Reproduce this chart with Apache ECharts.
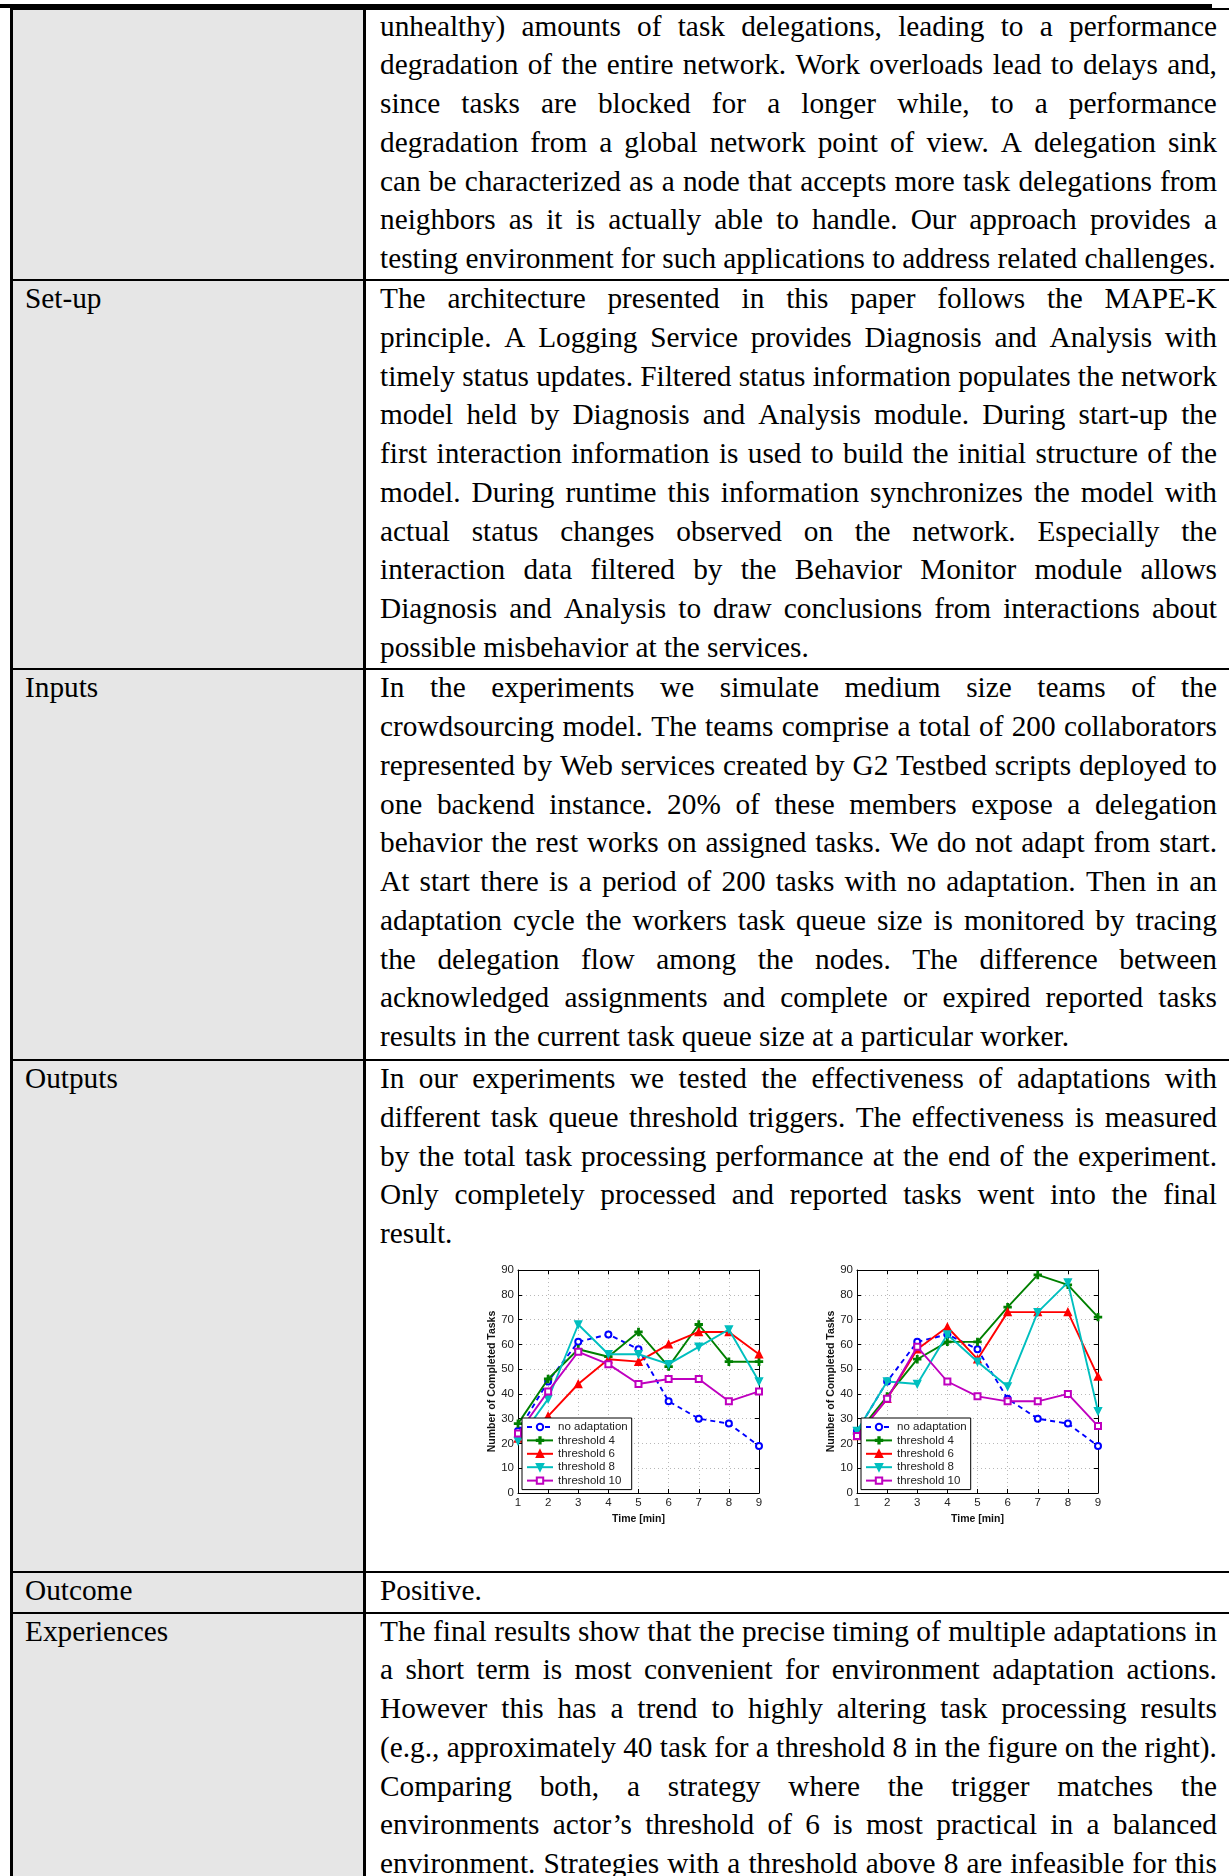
<!DOCTYPE html>
<html>
<head>
<meta charset="utf-8">
<script src="https://cdn.jsdelivr.net/npm/echarts@6/dist/echarts.min.js"></script>
<style>
  html, body { margin: 0; padding: 0; background: #fff; }
  #page { position: relative; width: 1229px; height: 1876px; overflow: hidden; background: #fff;
          font-family: 'Liberation Serif', 'Times New Roman', serif; font-size: 29.3px; color: #000; }
  .blk { position: absolute; }
  .line { height: 38.75px; line-height: 38.75px; white-space: pre; }
  .just { display: flex; justify-content: space-between; }
  #chart { position: absolute; left: 400px; top: 1250px; width: 780px; height: 300px; }
</style>
</head>
<body>
<div id="page"></div>
<script>
// ---------------- chart data ----------------
const times = ['1','2','3','4','5','6','7','8','9'];
const seriesNames = ['no adaptation','threshold 4','threshold 6','threshold 8','threshold 10'];

const leftNoAdaptation = [25, 45, 61, 64, 58, 37, 30, 28, 19];
const leftThreshold4   = [28, 46, 58, 55, 65, 51, 68, 53, 53];
const leftThreshold6   = [22, 31, 44, 54, 53, 60, 65, 65, 56];
const leftThreshold8   = [21, 38, 68, 56, 56, 52, 59, 66, 45];
const leftThreshold10  = [24, 41, 57, 52, 44, 46, 46, 37, 41];

const rightNoAdaptation = [25, 45, 61, 64, 58, 38, 30, 28, 19];
const rightThreshold4   = [24, 39, 54, 61, 61, 75, 88, 84, 71];
const rightThreshold6   = [23, 38, 58, 67, 54, 73, 73, 73, 47];
const rightThreshold8   = [25, 45, 44, 64, 53, 43, 73, 85, 33];
const rightThreshold10  = [23, 38, 59, 45, 39, 37, 37, 40, 27];

const yMin = 0, yMax = 90, yStep = 10;
const xAxisTitle = 'Time [min]';
const yAxisTitle = 'Number of Completed Tasks';

// ---------------- text content ----------------
const rowLabels = ['', 'Set-up', 'Inputs', 'Outputs', 'Outcome', 'Experiences'];
const row0Lines = [
  'unhealthy) amounts of task delegations, leading to a performance',
  'degradation of the entire network. Work overloads lead to delays and,',
  'since tasks are blocked for a longer while, to a performance',
  'degradation from a global network point of view. A delegation sink',
  'can be characterized as a node that accepts more task delegations from',
  'neighbors as it is actually able to handle. Our approach provides a',
  'testing environment for such applications to address related challenges.'
];
const row1Lines = [
  'The architecture presented in this paper follows the MAPE-K',
  'principle. A Logging Service provides Diagnosis and Analysis with',
  'timely status updates. Filtered status information populates the network',
  'model held by Diagnosis and Analysis module. During start-up the',
  'first interaction information is used to build the initial structure of the',
  'model. During runtime this information synchronizes the model with',
  'actual status changes observed on the network. Especially the',
  'interaction data filtered by the Behavior Monitor module allows',
  'Diagnosis and Analysis to draw conclusions from interactions about',
  'possible misbehavior at the services.'
];
const row2Lines = [
  'In the experiments we simulate medium size teams of the',
  'crowdsourcing model. The teams comprise a total of 200 collaborators',
  'represented by Web services created by G2 Testbed scripts deployed to',
  'one backend instance. 20% of these members expose a delegation',
  'behavior the rest works on assigned tasks. We do not adapt from start.',
  'At start there is a period of 200 tasks with no adaptation. Then in an',
  'adaptation cycle the workers task queue size is monitored by tracing',
  'the delegation flow among the nodes. The difference between',
  'acknowledged assignments and complete or expired reported tasks',
  'results in the current task queue size at a particular worker.'
];
const row3Lines = [
  'In our experiments we tested the effectiveness of adaptations with',
  'different task queue threshold triggers. The effectiveness is measured',
  'by the total task processing performance at the end of the experiment.',
  'Only completely processed and reported tasks went into the final',
  'result.'
];
const row4Lines = ['Positive.'];
const row5Lines = [
  'The final results show that the precise timing of multiple adaptations in',
  'a short term is most convenient for environment adaptation actions.',
  'However this has a trend to highly altering task processing results',
  '(e.g., approximately 40 task for a threshold 8 in the figure on the right).',
  'Comparing both, a strategy where the trigger matches the',
  'environments actor\u2019s threshold of 6 is most practical in a balanced',
  'environment. Strategies with a threshold above 8 are infeasible for this'
];
const rowsText = [row0Lines, row1Lines, row2Lines, row3Lines, row4Lines, row5Lines];
// last line of the final row continues on the next page -> justified
const rowLastIsJustified = [false, false, false, false, false, true];

// ---------------- page layout ----------------
const page = document.getElementById('page');
const rowBaselines = [36, 308.5, 697.6, 1088.5, 1600.5, 1641];
const rowBorders = [280, 669, 1060, 1572, 1613];
function addBox(l, t, w, h, bg) {
  const d = document.createElement('div');
  d.className = 'blk';
  d.style.cssText += `left:${l}px;top:${t}px;width:${w}px;height:${h}px;background:${bg};`;
  page.appendChild(d);
  return d;
}
// left column gray
addBox(12, 9, 352, 1867, '#e6e6e6');
// header rule and table top border
addBox(0, 4, 1212, 4, '#000');
addBox(10, 8, 1219, 2, '#000');
// vertical borders
addBox(10, 8, 2.5, 1868, '#000');
addBox(363, 8, 2.5, 1868, '#000');
// horizontal row borders
rowBorders.forEach(y => addBox(10, y - 1.25, 1219, 2.5, '#000'));

// text
rowsText.forEach((lines, r) => {
  const top = rowBaselines[r] - 29.3;
  if (rowLabels[r]) {
    const lb = document.createElement('div');
    lb.className = 'blk line';
    lb.style.left = '25px';
    lb.style.top = top + 'px';
    lb.textContent = rowLabels[r];
    page.appendChild(lb);
  }
  const blk = document.createElement('div');
  blk.className = 'blk';
  blk.style.left = '380px';
  blk.style.top = top + 'px';
  blk.style.width = '837px';
  lines.forEach((txt, i) => {
    const ln = document.createElement('div');
    const isLast = i === lines.length - 1;
    if (!isLast || rowLastIsJustified[r]) {
      ln.className = 'line just';
      txt.split(' ').forEach(w => {
        const s = document.createElement('span');
        s.textContent = w;
        ln.appendChild(s);
      });
    } else {
      ln.className = 'line';
      ln.textContent = txt;
    }
    blk.appendChild(ln);
  });
  page.appendChild(blk);
});

const chartDiv = document.createElement('div');
chartDiv.id = 'chart';
page.appendChild(chartDiv);

// ---------------- charts ----------------
const chart = echarts.init(chartDiv, null, { renderer: 'canvas' });
const plusPath = 'path://M4,0h2v4h4v2h-4v4h-2v-4h-4v-2h4z';
const downTri = 'path://M0,0L10,0L5,9Z';
const styleByName = {
  'no adaptation': { color: '#0000ff', symbol: 'emptyCircle', size: 6, type: [5, 4] },
  'threshold 4':   { color: '#008000', symbol: plusPath, size: 7, type: 'solid' },
  'threshold 6':   { color: '#ff0000', symbol: 'triangle', size: 7, type: 'solid' },
  'threshold 8':   { color: '#00bfbf', symbol: downTri, size: 7, type: 'solid' },
  'threshold 10':  { color: '#bf00bf', symbol: 'emptyRect', size: 6, type: 'solid' }
};
const leftData = [leftNoAdaptation, leftThreshold4, leftThreshold6, leftThreshold8, leftThreshold10];
const rightData = [rightNoAdaptation, rightThreshold4, rightThreshold6, rightThreshold8, rightThreshold10];

const grids = [
  { left: 118, top: 20, width: 241, height: 223 },
  { left: 457, top: 20, width: 241, height: 223 }
];
const axisFont = { fontFamily: 'Liberation Sans, Arial, sans-serif', fontSize: 11.5, color: '#222' };
const nameFont = { fontFamily: 'Liberation Sans, Arial, sans-serif', fontSize: 10.5, fontWeight: 'bold', color: '#111' };
const dotted = { show: true, lineStyle: { color: '#b8b8b8', type: [1, 3], width: 1 } };
const blackLine = { show: true, onZero: false, lineStyle: { color: '#000', width: 1 } };

const xAxes = [], yAxes = [];
[0, 1].forEach(g => {
  xAxes.push({
    type: 'category', gridIndex: g, data: times, boundaryGap: false, position: 'bottom',
    axisLine: blackLine, axisTick: { show: true, inside: true, length: 4, lineStyle: { color: '#000' } },
    axisLabel: Object.assign({ margin: 4 }, axisFont), splitLine: dotted,
    name: xAxisTitle, nameLocation: 'middle', nameGap: 17, nameTextStyle: nameFont
  });
  xAxes.push({
    type: 'category', gridIndex: g, data: times, boundaryGap: false, position: 'top',
    axisLine: blackLine, axisTick: { show: true, inside: true, length: 4, lineStyle: { color: '#000' } },
    axisLabel: { show: false }, splitLine: { show: false }
  });
  yAxes.push({
    type: 'value', gridIndex: g, min: yMin, max: yMax, interval: yStep, position: 'left',
    axisLine: blackLine, axisTick: { show: true, inside: true, length: 4, lineStyle: { color: '#000' } },
    axisLabel: Object.assign({ margin: 4 }, axisFont), splitLine: dotted,
    name: yAxisTitle, nameLocation: 'middle', nameGap: 20, nameRotate: 90, nameTextStyle: nameFont
  });
  yAxes.push({
    type: 'value', gridIndex: g, min: yMin, max: yMax, interval: yStep, position: 'right',
    axisLine: blackLine, axisTick: { show: true, inside: true, length: 4, lineStyle: { color: '#000' } },
    axisLabel: { show: false }, splitLine: { show: false }
  });
});

const series = [];
[leftData, rightData].forEach((set, g) => {
  set.forEach((vals, i) => {
    const name = seriesNames[i];
    const st = styleByName[name];
    series.push({
      type: 'line', name: name, data: vals,
      xAxisIndex: g * 2, yAxisIndex: g * 2,
      symbol: st.symbol, symbolSize: st.size, showAllSymbol: true,
      color: st.color,
      lineStyle: { color: st.color, width: 1.9, type: st.type },
      itemStyle: { color: st.color, borderColor: st.color, borderWidth: 1.4 },
      emphasis: { disabled: true }, animation: false, z: 2 + i
    });
  });
});

const legends = [0, 1].map(g => ({
  data: seriesNames, orient: 'vertical',
  left: grids[g].left + 4, top: 168,
  backgroundColor: '#fff', borderColor: '#000', borderWidth: 1,
  padding: [3, 4, 3, 4], itemGap: 1.4, itemWidth: 26, itemHeight: 8,
  textStyle: { fontFamily: 'Liberation Sans, Arial, sans-serif', fontSize: 11.5, color: '#222', lineHeight: 12 },
  selectedMode: false, z: 10
}));

chart.setOption({
  animation: false,
  grid: grids,
  xAxis: xAxes,
  yAxis: yAxes,
  legend: legends,
  series: series
});
</script>
</body>
</html>
